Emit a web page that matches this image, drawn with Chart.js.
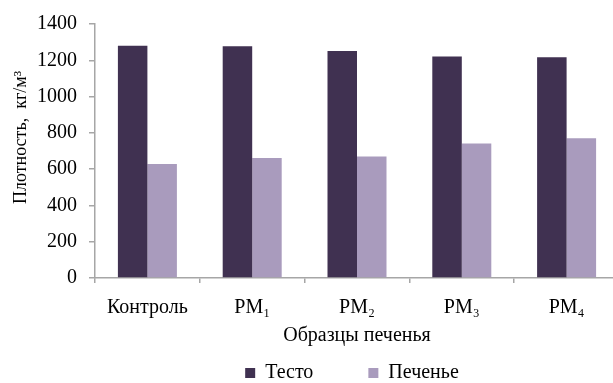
<!DOCTYPE html>
<html>
<head>
<meta charset="utf-8">
<script src="https://cdn.jsdelivr.net/npm/chart.js@4"></script>
<style>
  html, body { margin: 0; padding: 0; overflow: hidden; background: #fff; }
</style>
</head>
<body>
<canvas id="myChart" width="623" height="383"></canvas>
<script>
// data
var samples = ['Контроль', 'PM₁', 'PM₂', 'PM₃', 'PM₄'];
var dough = [1280, 1277, 1251, 1221, 1217];   // Тесто
var cookie = [628, 661, 670, 741, 770];       // Печенье
var yTicks = [0, 200, 400, 600, 800, 1000, 1200, 1400];

var serif = "'Liberation Serif', 'Times New Roman', serif";
var axisGrey = '#a6a6a6';

Chart.defaults.font.family = serif;
Chart.defaults.font.size = 20;
Chart.defaults.color = '#000';

var ctx = document.getElementById('myChart').getContext('2d');
new Chart(ctx, {
    type: 'bar',
    data: {
        labels: samples,
        datasets: [
            { label: 'Тесто', data: dough, backgroundColor: '#403151', borderWidth: 0 },
            { label: 'Печенье', data: cookie, backgroundColor: '#a99bbd', borderWidth: 0 }
        ]
    },
    options: {
        responsive: false,
        animation: false,
        events: [],
        layout: { padding: { top: 22, right: 4, left: 0, bottom: 0 } },
        datasets: { bar: { categoryPercentage: 0.563, barPercentage: 1 } },
        scales: {
            x: {
                grid: { display: true, drawOnChartArea: false, color: axisGrey, lineWidth: 1.5, tickLength: 5, offset: true },
                border: { color: axisGrey, width: 1.5 },
                ticks: { padding: 13, maxRotation: 0 },
                title: { display: true, text: 'Образцы печенья', padding: { top: 0, bottom: 5 } },
                afterFit: function (s) { s.height = 75; }
            },
            y: {
                min: 0,
                max: 1400,
                afterBuildTicks: function (s) { s.ticks = yTicks.map(function (v) { return { value: v }; }); },
                grid: { display: true, drawOnChartArea: false, color: axisGrey, lineWidth: 1.5, tickLength: 6 },
                border: { color: axisGrey, width: 1.5 },
                ticks: { padding: 12, callback: function (v) { return String(v); } },
                // leading spaces push the label up, as it sits above centre in the picture
                title: { display: true, text: '      Плотность,  кг/м³', font: { size: 18 }, padding: { top: 10, bottom: 0 } },
                afterFit: function (s) { s.width = 95; }
            }
        },
        plugins: {
            tooltip: { enabled: false },
            legend: {
                position: 'bottom',
                fullSize: false,
                maxHeight: 30,
                labels: {
                    font: { family: serif, size: 20 },
                    boxWidth: 10,
                    boxHeight: 10,
                    padding: 10,
                    generateLabels: function (chart) {
                        var items = Chart.defaults.plugins.legend.labels.generateLabels(chart);
                        items.forEach(function (it) { it.lineWidth = 0; });
                        // wide gap between the two entries, as in the picture
                        items[0].text = items[0].text + '         ';
                        items[1].text = items[1].text + '  ';
                        return items;
                    }
                }
            }
        }
    }
});
</script>
</body>
</html>
